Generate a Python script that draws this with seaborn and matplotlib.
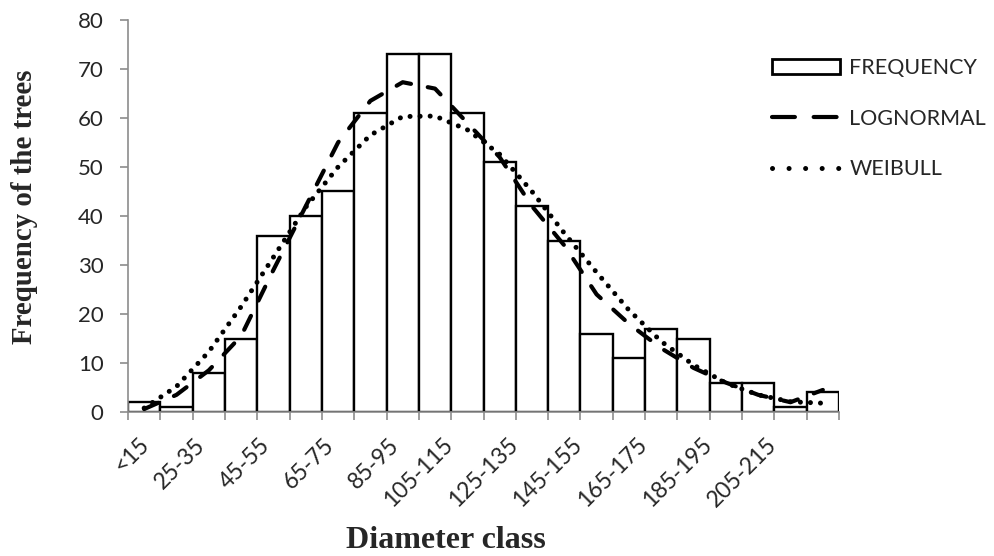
import numpy as np
import pandas as pd
import matplotlib
matplotlib.use('Agg')
import matplotlib.pyplot as plt
import matplotlib.transforms as mtransforms
from matplotlib.patches import Patch
from matplotlib.lines import Line2D
import seaborn as sns

# ==================== data ====================
classes = ['<15', '15-25', '25-35', '35-45', '45-55', '55-65', '65-75', '75-85',
           '85-95', '95-105', '105-115', '115-125', '125-135', '135-145', '145-155',
           '155-165', '165-175', '175-185', '185-195', '195-205', '205-215', '215-225']
frequency = [2, 1, 8, 15, 36, 40, 45, 61, 73, 73, 61, 51, 42, 35, 16, 11, 17, 15, 6, 6, 1, 4]
lognormal = [0.6, 3.5, 8.5, 15.5, 29, 42, 55, 63.5, 67.3, 66, 59, 52, 42, 34, 24,
             18, 13, 9, 6, 3.5, 2, 4.5]
weibull = [0.8, 5.2, 12.3, 21.5, 31.6, 41.8, 50, 56.5, 60.3, 60.4, 57.6, 52.6, 45,
           36.5, 28.5, 20.8, 14.4, 9.6, 5.9, 3.5, 2.1, 1.8]
y_ticks = [0, 10, 20, 30, 40, 50, 60, 70, 80]

# ==================== style ====================
sns.set_theme(style='white')
plt.rcParams['font.family'] = ['Lato', 'DejaVu Sans']
grey = '#8c8c8c'
ytick_fs = 16
xtick_fs = 16.5
legend_fs = 15.5
dash_style = (0, (3.7, 4.1))
dot_style = (0, (0.01, 2.0))

df = pd.DataFrame({'cls': classes, 'freq': frequency,
                   'logn': lognormal, 'weib': weibull})
df['pos'] = np.arange(len(df))

fig = plt.figure(figsize=(9.95, 5.56), dpi=100)
ax = fig.add_axes([128 / 995, 1 - 412 / 556, 711 / 995, 392 / 556])

# bars
sns.barplot(data=df, x='cls', y='freq', color='white', saturation=1,
            edgecolor='black', linewidth=1.7, width=1.0, ax=ax, zorder=2)

# fitted curves
sns.lineplot(data=df, x='pos', y='logn', color='black', linewidth=3.0,
             linestyle=dash_style, dash_capstyle='round', ax=ax, zorder=3)
sns.lineplot(data=df, x='pos', y='weib', color='black', linewidth=3.6,
             linestyle=dot_style, dash_capstyle='round', ax=ax, zorder=4)

ax.set_xlim(-0.5, len(classes) - 0.5)
ax.set_ylim(0, 80)
ax.set_xlabel('')
ax.set_ylabel('')

# axes / ticks
for side in ['top', 'right']:
    ax.spines[side].set_visible(False)
for side in ['left', 'bottom']:
    ax.spines[side].set_color(grey)
    ax.spines[side].set_linewidth(1.2)

ax.set_yticks(y_ticks)
ax.set_yticklabels([str(v) for v in y_ticks])
ax.tick_params(axis='y', direction='out', length=5.5, width=1.2, color=grey,
               pad=12, left=True, labelsize=ytick_fs)

ax.set_xticks(np.arange(-0.5, len(classes), 1))
ax.set_xticklabels([])
ax.set_xticks(np.arange(0, len(classes), 2), minor=True)
ax.set_xticklabels(classes[::2], minor=True)
ax.tick_params(axis='x', which='major', direction='out', length=5.5, width=1.2,
               color=grey, bottom=True)
ax.tick_params(axis='x', which='minor', length=0, pad=16, labelsize=xtick_fs)

# rotated category labels: the end of each label sits left of its bar,
# longer labels further left (as in the original spreadsheet chart)
fig.canvas.draw()
renderer = fig.canvas.get_renderer()
for lab in ax.get_xticklabels(minor=True):
    w = lab.get_window_extent(renderer).width
    shift = mtransforms.ScaledTranslation(-(0.4 * w - 10) / 100, 0,
                                          fig.dpi_scale_trans)
    lab.set_rotation(45)
    lab.set_ha('right')
    lab.set_va('top')
    lab.set_rotation_mode('anchor')
    lab.set_transform(lab.get_transform() + shift)

# axis titles
fig.text(25 / 995, 1 - 207 / 556, 'Frequency of the trees', rotation=90,
         ha='center', va='center', fontsize=20.8, fontweight='bold',
         family='Liberation Serif')
fig.text(446 / 995, 1 - 540 / 556, 'Diameter class', ha='center', va='center',
         fontsize=23, fontweight='bold', family='Liberation Serif')

# legend
handles = [Patch(facecolor='white', edgecolor='black', linewidth=2.0),
           Line2D([], [], color='black', linewidth=3.0, linestyle=(0, (5.5, 4.5)),
                  dash_capstyle='round'),
           Line2D([], [], color='black', linewidth=3.6, linestyle=(0, (0.01, 3.3)),
                  dash_capstyle='round')]
ax.legend(handles, ['FREQUENCY', 'LOGNORMAL', 'WEIBULL'], frameon=False,
          loc='upper left', bbox_to_anchor=(772 / 995, 1 - 58 / 556),
          bbox_transform=fig.transFigure, fontsize=legend_fs, handlelength=3.15,
          handleheight=0.7, handletextpad=0.45, labelspacing=1.42,
          borderpad=0, borderaxespad=0)

fig.savefig('out.png', dpi=100)
